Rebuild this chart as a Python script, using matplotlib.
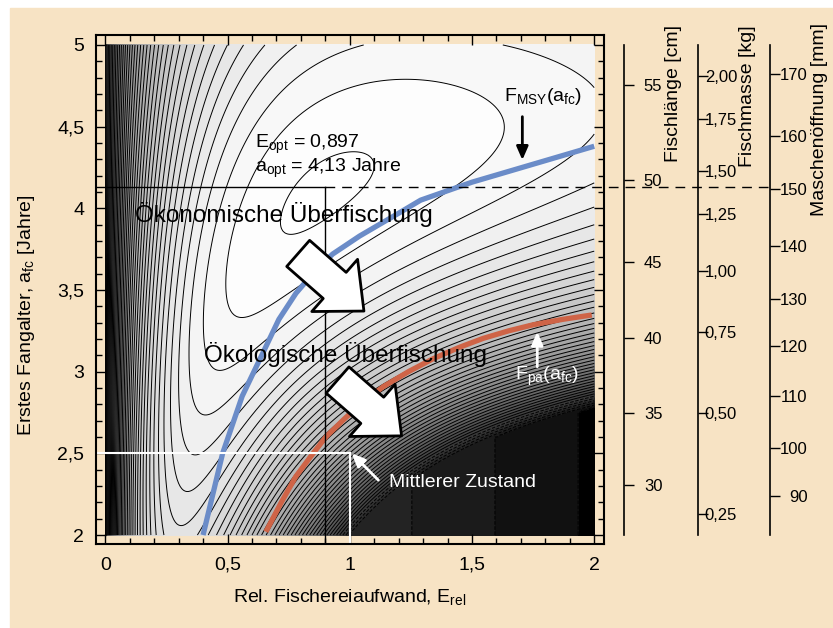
import numpy as np
import matplotlib
matplotlib.use('Agg')
import matplotlib.pyplot as plt
from matplotlib.colors import PowerNorm
from matplotlib.patches import Rectangle

plt.rcParams['font.family'] = ['Liberation Sans', 'DejaVu Sans']
plt.rcParams['mathtext.fontset'] = 'custom'
plt.rcParams['mathtext.rm'] = 'Liberation Sans'
plt.rcParams['mathtext.it'] = 'Liberation Sans:italic'
plt.rcParams['axes.linewidth'] = 1.5

beige = '#f7e3c4'

# bioeconomic model parameters (age structured, Beverton-Holt recruitment)
nat_mort = 0.37
growth_k = 0.3
mat_age = 3.0
f_ref = 1.0
sel_width = 0.06
E_collapse = 1.0  # recruitment fails here when a_fc = 2

E_opt = 0.897
a_opt = 4.13
E_now = 1.0
a_now = 2.5

# F_MSY(a_fc) and F_pa(a_fc)
msy_E = [0.40, 0.44, 0.48, 0.56, 0.64, 0.71, 0.78, 0.86, 0.93, 1.04, 1.2, 1.29, 1.5, 1.75, 2.0]
msy_a = [2.0, 2.25, 2.5, 2.85, 3.1, 3.32, 3.48, 3.62, 3.72, 3.83, 3.97, 4.05, 4.16, 4.27, 4.38]
pa_E = [0.657, 0.72, 0.779, 0.84, 0.902, 0.974, 1.05, 1.137, 1.24, 1.342, 1.45, 1.546, 1.65, 1.75, 1.87, 1.99]
pa_a = [2.02, 2.2, 2.357, 2.48, 2.60, 2.705, 2.81, 2.908, 3.0, 3.08, 3.15, 3.204, 3.25, 3.287, 3.32, 3.347]

# secondary scales: tick values and the age they sit at
len_vals = [30, 35, 40, 45, 50, 55]
len_age = [2.304, 2.748, 3.204, 3.673, 4.173, 4.753]
mass_vals = [0.25, 0.50, 0.75, 1.00, 1.25, 1.50, 1.75, 2.00]
mass_age = [2.126, 2.745, 3.244, 3.616, 3.963, 4.230, 4.547, 4.810]
mesh_vals = [90, 100, 110, 120, 130, 140, 150, 160, 170]
mesh_age = [2.240, 2.530, 2.851, 3.157, 3.443, 3.769, 4.116, 4.445, 4.822]

E = np.linspace(0, 2, 301)
A = np.linspace(2, 5, 241)
dt = 0.02
age = np.arange(0, 20, dt)

w = (1 - np.exp(-growth_k * age)) ** 3
mat = 1 / (1 + np.exp(-(age - mat_age) / 0.3))


def survival(F, a):
    # smooth selection ogive around the first catch age
    z = (age - a) / sel_width
    sel = 1 / (1 + np.exp(-z))
    fa = sel_width * np.logaddexp(0, z)
    return np.exp(-nat_mort * age[None, :] - np.atleast_1d(F)[:, None] * fa[None, :]), sel


spr0 = (np.exp(-nat_mort * age) * w * mat).sum() * dt
N_c, _ = survival(f_ref * E_collapse, 2.0)
bh_ratio = spr0 / ((N_c * w * mat).sum() * dt)

F = f_ref * E
Y = np.empty((len(A), len(E)))
for i, a in enumerate(A):
    N, sel = survival(F, a)
    ypr = F * (N * w * sel).sum(1) * dt
    phi = (N * w * mat).sum(1) * dt / spr0
    R = np.clip((bh_ratio * phi - 1) / (phi * (bh_ratio - 1)), 0, None)
    Y[i] = R * ypr
Y = Y / Y.max()

# effort cost: marginal yield at the optimum
dY = np.gradient(Y, E, axis=1)
cost = dY[np.argmin(abs(A - a_opt)), np.argmin(abs(E - E_opt))]
P = Y - cost * E
level_step = 0.34 * cost
level_start = -1.934 * cost

fig = plt.figure(figsize=(8.33, 6.28), dpi=100)
fig.patches.append(Rectangle((10 / 833, 0), 1, 1 - 8 / 628, transform=fig.transFigure,
                             color=beige, zorder=-10))
ax = fig.add_axes([96 / 833, 84 / 628, 508 / 833, 509 / 628])
ax.set_facecolor(beige)

lines = np.arange(level_start, P.max(), level_step)
fills = np.concatenate([[-1], lines, [P.max() + 0.01]])
ax.contourf(E, A, P, levels=fills, cmap='gray',
            norm=PowerNorm(0.75, vmin=-2.2 * cost, vmax=P.max()))
ax.contour(E, A, P, levels=lines, colors='k', linewidths=0.7)

ax.plot(msy_E, msy_a, color='#6b8cc8', lw=3.8, solid_capstyle='butt')
ax.plot(pa_E, pa_a, color='#cf6447', lw=3.8, solid_capstyle='butt')

x0, x1 = -0.038, 2.04
y0, y1 = 1.945, 5.061
ax.set_xlim(x0, x1)
ax.set_ylim(y0, y1)

ax.plot([x0, E_opt], [a_opt, a_opt], color='k', lw=1)
ax.plot([E_opt, E_opt], [a_opt, y0], color='k', lw=1)
ax.plot([E_opt, 2.718], [a_opt, a_opt], color='k', lw=1, ls=(0, (7, 5)), clip_on=False)
ax.plot([x0, E_now], [a_now, a_now], color='white', lw=1.5)
ax.plot([E_now, E_now], [a_now, y0], color='white', lw=1.5)

big = dict(arrowstyle='simple,head_width=2.5,head_length=1.4,tail_width=1.25',
           fc='white', ec='black', lw=2, mutation_scale=20, shrinkA=0, shrinkB=0)
ax.annotate('', xy=(1.058, 3.371), xytext=(0.789, 3.724), arrowprops=big)
ax.annotate('', xy=(1.212, 2.607), xytext=(0.950, 2.949), arrowprops=big)

ax.annotate('', xy=(1.706, 4.296), xytext=(1.706, 4.561),
            arrowprops=dict(arrowstyle='-|>,head_length=0.8,head_width=0.35', color='k',
                            lw=2, shrinkA=0, shrinkB=0))
ax.annotate('', xy=(1.767, 3.244), xytext=(1.767, 3.030),
            arrowprops=dict(arrowstyle='-|>,head_length=0.8,head_width=0.35', color='white',
                            lw=2, shrinkA=0, shrinkB=0))
ax.annotate('', xy=(1.008, 2.5), xytext=(1.117, 2.336),
            arrowprops=dict(arrowstyle='-|>,head_length=0.8,head_width=0.35', color='white',
                            lw=2, shrinkA=0, shrinkB=0))

ax.text(0.612, 4.369, r'E$_{\rm opt}$ = 0,897', fontsize=14, va='baseline')
ax.text(0.612, 4.224, r'a$_{\rm opt}$ = 4,13 Jahre', fontsize=14, va='baseline')
ax.text(0.121, 3.918, 'Ökonomische Überfischung', fontsize=17.5, va='baseline')
ax.text(0.404, 3.061, 'Ökologische Überfischung', fontsize=17.5, va='baseline')
ax.text(1.162, 2.295, 'Mittlerer Zustand', fontsize=14, va='baseline', color='white')
ax.text(1.631, 4.657, r'F$_{\rm MSY}$(a$_{\rm fc}$)', fontsize=14, va='baseline')
ax.text(1.676, 2.949, r'F$_{\rm pa}$(a$_{\rm fc}$)', fontsize=14, va='baseline', color='white')

ax.set_xticks([0, 0.5, 1, 1.5, 2], ['0', '0,5', '1', '1,5', '2'])
ax.set_yticks([2, 2.5, 3, 3.5, 4, 4.5, 5], ['2', '2,5', '3', '3,5', '4', '4,5', '5'])
ax.set_xticks(np.arange(0, 2.01, 0.1), minor=True)
ax.set_yticks(np.arange(2, 5.01, 0.1), minor=True)
ax.tick_params(which='both', direction='in', top=True, right=True, width=1)
ax.tick_params(which='major', length=7, labelsize=14)
ax.tick_params(which='minor', length=4)
ax.tick_params(axis='y', pad=8.5)
ax.tick_params(axis='x', pad=9)
ax.set_xlabel(r'Rel. Fischereiaufwand, E$_{\rm rel}$', fontsize=14)
ax.set_ylabel(r'Erstes Fangalter, a$_{\rm fc}$ [Jahre]', fontsize=14)
ax.xaxis.set_label_coords(0.5, -0.085)
ax.yaxis.set_label_coords(-0.116, 0.45)


def side_scale(xpix, vals, ages, fmt, pad, ha):
    sx = fig.add_axes([xpix / 833, 93 / 628, 0.0001, 490 / 628])
    sx.patch.set_visible(False)
    for s in ['top', 'right', 'bottom']:
        sx.spines[s].set_visible(False)
    sx.spines['left'].set_linewidth(1.2)
    sx.set_xticks([])
    sx.set_ylim(2, 5)
    sx.set_yticks(ages, [fmt(v) for v in vals])
    sx.tick_params(axis='y', direction='in', left=True, right=False, labelleft=False,
                   labelright=True, length=7, width=1, labelsize=12, pad=pad)
    for lab in sx.get_yticklabels():
        lab.set_horizontalalignment(ha)
    return sx


side_scale(624.3, len_vals, len_age, lambda v: '%d' % v, 14, 'left')
side_scale(697.7, mass_vals, mass_age, lambda v: ('%.2f' % v).replace('.', ','), 5, 'left')
side_scale(770.0, mesh_vals, mesh_age, lambda v: '%d' % v, 27, 'right')

fig.text(674 / 833, 1 - 25 / 628, 'Fischlänge [cm]', rotation=90, ha='center', va='top', fontsize=14)
fig.text(747 / 833, 1 - 25 / 628, 'Fischmasse [kg]', rotation=90, ha='center', va='top', fontsize=14)
fig.text(819 / 833, 1 - 23 / 628, 'Maschenöffnung [mm]', rotation=90, ha='center', va='top', fontsize=14)

fig.savefig('out.png', dpi=100)
